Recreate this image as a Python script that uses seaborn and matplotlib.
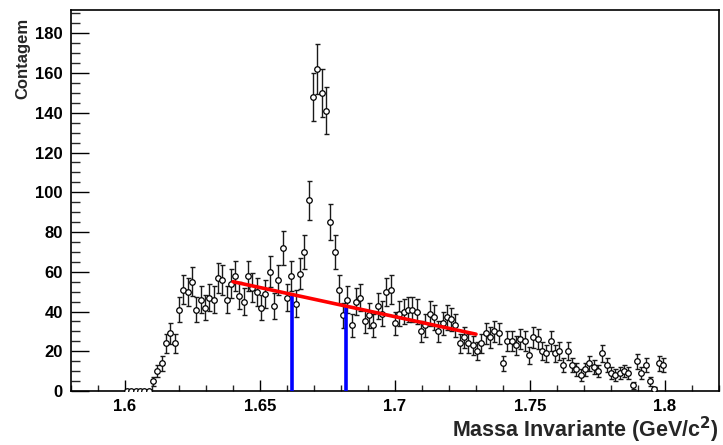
import numpy as np
import pandas as pd
import matplotlib
matplotlib.use("Agg")
import matplotlib.pyplot as plt
import seaborn as sns
from matplotlib.ticker import MultipleLocator

# Histogram binning: 125 bins between 1.6 and 1.8 GeV/c^2
hist_lo, hist_hi = 1.6, 1.8
n_bins = 125

# Entries per bin
counts = [
    0, 0, 0, 0, 0, 0, 5, 10, 14, 24,
    29, 24, 41, 51, 50, 55, 41, 46, 42, 47,
    46, 57, 56, 46, 54, 58, 48, 45, 58, 52,
    50, 42, 49, 60, 43, 56, 72, 47, 58, 44,
    59, 70, 96, 148, 162, 150, 141, 85, 70, 51,
    38, 46, 33, 45, 47, 35, 38, 33, 43, 39,
    50, 51, 34, 39, 40, 41, 41, 40, 30, 33,
    39, 37, 30, 34, 37, 36, 33, 24, 27, 24,
    23, 20, 24, 29, 27, 30, 29, 14, 25, 25,
    23, 26, 25, 18, 27, 26, 20, 19, 25, 19,
    20, 13, 20, 13, 11, 8, 11, 14, 12, 10,
    19, 13, 9, 8, 9, 10, 9, 3, 15, 9,
    13, 5, 1, 14, 13,
]

# Linear background fit (end points) and signal window edges
fit_x = [1.64, 1.73]
fit_y = [55.0, 28.6]
window_x = [1.662, 1.682]

x_ticks = [1.6, 1.65, 1.7, 1.75, 1.8]
x_tick_labels = ["1.6", "1.65", "1.7", "1.75", "1.8"]
y_ticks = [0, 20, 40, 60, 80, 100, 120, 140, 160, 180]

edges = np.linspace(hist_lo, hist_hi, n_bins + 1)
centers = 0.5 * (edges[:-1] + edges[1:])
df = pd.DataFrame({"mass": centers, "count": counts})
df["err"] = np.sqrt(df["count"])

sns.set_style("white")
plt.rcParams["font.family"] = ["Liberation Sans", "DejaVu Sans"]

fig = plt.figure(figsize=(7.23, 4.45), dpi=100)
ax = fig.add_axes([0.0982, 0.1213, 0.8963, 0.8562])

nz = df[df["count"] > 0]
ax.errorbar(nz["mass"], nz["count"], yerr=nz["err"], fmt="none",
            ecolor="#1a1a1a", elinewidth=1.0, capsize=1.8, capthick=1.0,
            zorder=2)
sns.scatterplot(data=df, x="mass", y="count", ax=ax, marker="o", s=16,
                color="white", edgecolor="black", linewidth=0.9, zorder=3,
                legend=False)

# Signal window and background fit
heights = np.interp(window_x, fit_x, fit_y)
ax.vlines(window_x, 0, heights, colors="#0000ff", linewidth=2.6, zorder=4)
sns.lineplot(x=fit_x, y=fit_y, ax=ax, color="#ff0000", linewidth=2.6,
             zorder=5, legend=False)

ax.set_xlim(1.58, 1.82)
ax.set_ylim(0, 191.7)

ax.set_xticks(x_ticks)
ax.set_xticklabels(x_tick_labels, fontweight="bold", fontsize=12)
ax.set_yticks(y_ticks)
ax.set_yticklabels([str(v) for v in y_ticks], fontweight="bold", fontsize=12)
ax.xaxis.set_minor_locator(MultipleLocator(0.01))
ax.yaxis.set_minor_locator(MultipleLocator(5))

ax.tick_params(axis="x", which="major", direction="in", length=8, width=1,
               pad=6, bottom=True, top=False, colors="black")
ax.tick_params(axis="x", which="minor", direction="in", length=4.3, width=1,
               bottom=True, top=False)
ax.tick_params(axis="y", which="major", direction="in", length=13, width=1,
               pad=6, left=True, right=False, colors="black")
ax.tick_params(axis="y", which="minor", direction="in", length=6.5, width=1,
               left=True, right=False)

for side in ["left", "right", "top", "bottom"]:
    ax.spines[side].set_visible(True)
    ax.spines[side].set_color("black")
    ax.spines[side].set_linewidth(1.2)

ax.set_xlabel("Massa Invariante (GeV/c$^{\\mathbf{2}}$)", loc="right",
              fontsize=15.5, fontweight="bold")
ax.xaxis.set_label_coords(1.0, -0.062)
ax.set_ylabel("Contagem", loc="top", fontsize=12, fontweight="bold")
ax.yaxis.set_label_coords(-0.062, 0.979)

fig.savefig("out.png", dpi=100)
